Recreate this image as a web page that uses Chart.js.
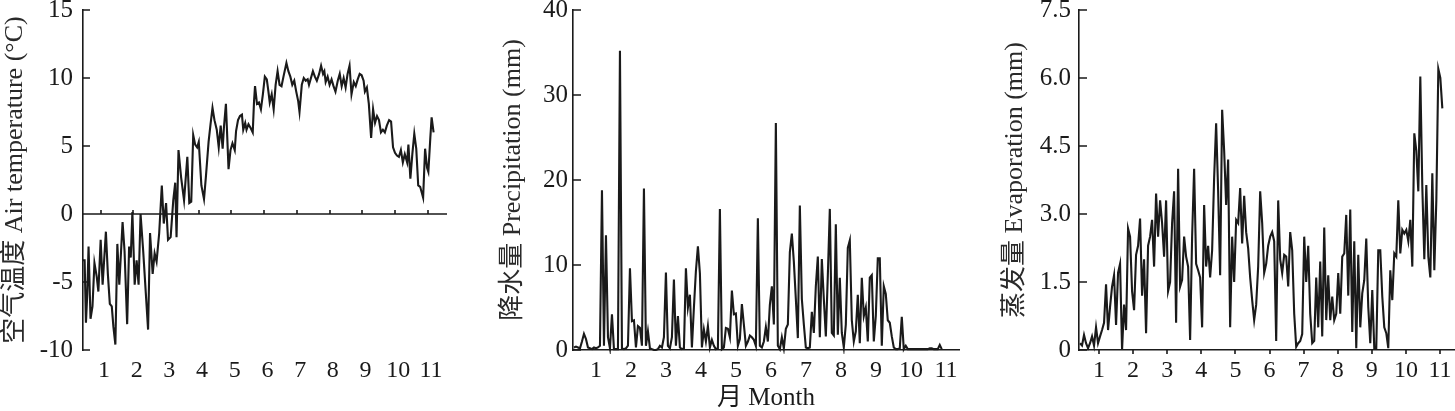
<!DOCTYPE html>
<html>
<head>
<meta charset="utf-8">
<script src="https://cdn.jsdelivr.net/npm/chart.js@4.4.1/dist/chart.umd.min.js"></script>
<style>
    body { margin: 0; background: #fff; width: 1455px; height: 411px; overflow: hidden; position: relative; }
    canvas { position: absolute; top: 0; }
</style>
</head>
<body>
<canvas id="tempChart" width="460" height="411" style="left:0px"></canvas>
<canvas id="precipChart" width="480" height="411" style="left:490px"></canvas>
<canvas id="evapChart" width="455" height="411" style="left:1000px"></canvas>
<script>
// month tick labels shared by the three panels
const monthTicks = [1, 2, 3, 4, 5, 6, 7, 8, 9, 10, 11];

// air temperature (°C), position in months
const tempMonth = [
    0.35, 0.41, 0.45, 0.49, 0.53, 0.59, 0.65, 0.71, 0.78, 0.83, 0.90, 0.96,
    1.06, 1.12, 1.18, 1.24, 1.29, 1.35, 1.41, 1.47, 1.57, 1.63, 1.71, 1.77, 1.82, 1.87, 1.94,
    2.00, 2.06, 2.12, 2.20, 2.28, 2.35, 2.41, 2.49, 2.55, 2.61, 2.69, 2.77, 2.83, 2.90, 2.96,
    3.04, 3.12, 3.18, 3.22, 3.28, 3.36, 3.45, 3.55, 3.61, 3.67, 3.73, 3.79, 3.85, 3.90, 3.98,
    4.06, 4.12, 4.20, 4.26, 4.32, 4.38, 4.45, 4.51, 4.57, 4.63, 4.67, 4.73, 4.81, 4.87, 4.93,
    5.00, 5.04, 5.10, 5.16, 5.22, 5.26, 5.32, 5.36, 5.42, 5.49, 5.55, 5.59,
    5.62, 5.68, 5.74, 5.80, 5.86, 5.92, 5.98, 6.03, 6.07, 6.13,
    6.19, 6.25, 6.31, 6.37, 6.43, 6.49, 6.58, 6.64, 6.70, 6.76,
    6.82, 6.88, 6.94, 6.98, 7.05, 7.11, 7.17, 7.23, 7.27, 7.33,
    7.39, 7.45, 7.51, 7.58, 7.64, 7.70, 7.74, 7.78, 7.84, 7.90,
    7.96, 8.02, 8.08, 8.15, 8.21, 8.27, 8.33, 8.39, 8.45, 8.51,
    8.57, 8.64, 8.70, 8.76, 8.82, 8.88, 8.94, 8.98, 9.04, 9.10,
    9.17, 9.23, 9.29, 9.35, 9.41, 9.47, 9.53, 9.59, 9.65, 9.72,
    9.78, 9.84, 9.90, 9.96, 10.02, 10.08, 10.14, 10.20, 10.27, 10.31,
    10.37, 10.43, 10.49, 10.55, 10.61, 10.67, 10.76, 10.82, 10.88, 10.92,
    10.98, 11.02, 11.08
];
const tempValue = [
    -3.4, -3.4, -8.0, -5.9, -2.4, -7.7, -6.8, -3.6, -4.6, -5.7, -1.9, -5.2,
    -1.3, -4.4, -6.6, -6.8, -8.3, -9.6, -2.2, -5.2, -0.6, -2.7, -8.1, -2.4, -3.2, 0.15, -5.2,
    -3.4, -5.2, 0, -2.7, -5.8, -8.5, -1.4, -4.4, -2.9, -3.5, -1.4, 2.1, -0.7, 0.8, -1.9,
    -1.7, 1.0, 2.3, -1.7, 4.7, 2.7, 1.0, 4.2, 0.8, 0.9, 5.8, 5.1, 4.9, 5.3, 2.1,
    1.1, 2.8, 5.3, 6.6, 7.8, 6.9, 6.2, 4.9, 6.5, 4.8, 6.4, 8.1, 3.3, 4.7, 5.2,
    4.7, 6.1, 6.9, 7.2, 7.3, 6.2, 6.7, 6.2, 6.6, 6.3, 6.0, 8.3,
    9.4, 8.1, 8.2, 7.7, 8.8, 10.1, 9.9, 9.0, 8.2, 8.8,
    7.7, 9.5, 10.5, 9.5, 9.4, 10.1, 11.1, 10.5, 10.1, 9.5,
    9.8, 9.0, 8.3, 7.5, 9.5, 10.0, 9.8, 9.9, 9.5, 10.0,
    10.5, 10.1, 9.8, 10.3, 10.9, 10.3, 10.5, 9.7, 10.1, 9.5,
    9.9, 9.4, 9.0, 9.8, 10.3, 9.4, 10.0, 9.3, 10.3, 10.9,
    8.8, 9.7, 9.4, 9.9, 10.3, 10.2, 9.8, 9.0, 9.3, 8.1,
    5.6, 7.7, 6.7, 7.2, 6.9, 6.0, 6.2, 6.0, 6.5, 6.9,
    6.8, 4.9, 4.5, 4.3, 4.2, 4.7, 3.8, 4.4, 3.8, 5.1,
    2.6, 4.4, 5.9, 4.8, 2.1, 2.0, 1.2, 4.8, 3.4, 3.1,
    5.6, 7.1, 6.0
];

// precipitation (mm), one reading every precipStep months from precipStart
const precipStart = 0.371;
const precipStep = 0.0571;
const precipValue = [
    0.3, 0.4, 0.3, 0.2, 1.0, 1.9, 1.3, 0.3, 0.2, 0.1,
    0.3, 0.2, 0.3, 0.5, 18.8, 0.5, 13.5, 1.5, 0.2, 4.2,
    0.1, 0.1, 0.1, 35.2, 0.2, 0.1, 0.2, 0.5, 9.6, 3.4,
    3.5, 0.3, 2.8, 2.6, 0.5, 19.0, 0.5, 2.2, 0.2, 0.1,
    0, 0, 0.1, 0.5, 0.3, 1.5, 9.1, 0.5, 0.2, 1.5,
    8.3, 0.5, 4.0, 0.3, 0.1, 0.2, 9.6, 5.0, 6.5, 0.3,
    5.0, 9.3, 12.2, 9.0, 0.3, 2.4, 1.0, 2.8, 0.3, 1.2,
    0.5, 0.1, 0.2, 16.6, 0.1, 0.3, 2.6, 2.5, 1.5, 7.0,
    4.2, 4.3, 0.5, 1.3, 5.4, 3.0, 0.5, 1.0, 1.7, 1.5,
    1.2, 0.5, 15.5, 0.5, 0.3, 1.0,
    2.7, 1.0, 5.3, 7.5, 3.0, 26.7, 0.5, 0.1, 1.5, 0.2,
    2.5, 3.0, 11.5, 13.7, 10.4, 6.0, 1.4, 17.0, 6.0, 3.0,
    0.3, 0.2, 0.3, 4.5, 2.0, 7.5, 11.0, 1.5, 10.7, 6.0,
    1.6, 8.8, 16.6, 2.0, 1.7, 14.8, 1.8, 8.5, 2.0, 0.3,
    3.0, 12.0, 12.9, 3.5, 1.0, 2.2, 6.5, 0.8, 8.5, 4.0,
    5.0, 1.0, 8.5, 8.8, 1.0, 4.0, 10.8, 10.8, 0.5, 7.5,
    6.6, 3.5, 3.2, 1.6, 0.3, 0.1, 0.1, 0.2, 3.9, 0.1,
    0.5, 0.1, 0.1, 0.1, 0.1, 0.1, 0.1, 0.1, 0.1, 0.1,
    0.1, 0.1, 0.2, 0.2, 0.1, 0.1, 0.1, 0.6, 0.1
];

// evaporation (mm), one reading every evapStep months from evapStart
const evapStart = 0.443;
const evapStep = 0.0587;
const evapValue = [
    0.15, 0.1, 0.33, 0.15, 0.04, 0.15, 0.3, 0.1, 0.5, 0.15,
    0.3, 0.44, 0.6, 1.45, 0.44, 0.95, 1.4, 1.65, 0.55, 1.7,
    1.9, 0, 1.0, 0.44, 2.68, 2.5, 1.3, 0.88, 2.1, 2.3,
    2.9, 1.2, 2.0, 0.37, 2.3, 2.5, 2.87, 1.84, 3.45, 2.5,
    3.3, 2.8, 2.06, 3.3, 1.3, 1.5, 2.8, 3.5, 0.6, 4.0,
    1.4, 1.55, 2.5, 2.06, 1.84, 0.22, 2.5, 4.0, 1.9, 1.76,
    1.6, 0.5, 3.2, 1.84, 2.3, 1.6, 2.2, 3.8, 5.0, 3.5,
    1.65, 5.3, 4.4, 3.2, 4.2, 0.5, 2.5, 1.5, 2.87, 2.8,
    3.57, 2.35, 3.4, 2.6, 2.24, 1.6, 1.1, 0.66, 1.0, 1.84,
    3.5, 2.8, 1.7,
    1.9, 2.3, 2.5, 2.6, 2.4, 0.2, 3.3, 2.0, 1.7, 2.1,
    2.06, 1.4, 2.6, 2.2, 0.8, 0.07, 0.15, 0.2, 0.35, 2.5,
    1.5, 2.3, 0.8, 0.15, 0.2, 1.6, 0.5, 1.95, 0.3, 2.7,
    0.66, 1.65, 0.66, 1.18, 0.66, 0.8, 1.7, 0.8, 2.06, 2.13,
    2.98, 1.2, 3.1, 0.4, 2.4, 0.04, 2.1, 0.5, 1.25, 1.54,
    2.46, 0.95, 0.15, 1.32, 0.04, 0.04, 2.2, 2.2, 1.18, 0.5,
    0.37, 0.04, 1.76, 1.1, 2.13, 2.06, 3.3, 2.13, 2.65, 2.57,
    2.65, 2.4, 2.87, 1.84, 4.78, 4.4, 3.5, 6.03, 3.6, 2.0,
    3.64, 2.06, 1.6, 3.9, 1.76, 3.3, 6.2, 6.0, 5.33
];

const INK = '#1a1a1a';
const FONT = "'Liberation Serif', 'Noto Sans CJK SC', serif";
Chart.defaults.font.family = FONT;
Chart.defaults.color = INK;

// inward y ticks, optional zero line and month tick marks
const axisMarks = {
    id: 'axisMarks',
    afterDatasetsDraw(chart, args, opts) {
        const { ctx, chartArea, scales: { x, y } } = chart;
        ctx.save();
        ctx.strokeStyle = INK;
        ctx.lineWidth = 1.6;
        ctx.beginPath();
        y.ticks.forEach(t => {
            const py = Math.round(y.getPixelForValue(t.value));
            ctx.moveTo(chartArea.left, py);
            ctx.lineTo(chartArea.left + opts.yTick, py);
        });
        let base = chartArea.bottom;
        if (opts.zeroLine) {
            base = Math.round(y.getPixelForValue(0));
            ctx.moveTo(chartArea.left, base);
            ctx.lineTo(chartArea.right, base);
        }
        if (opts.xTick) {
            monthTicks.forEach(m => {
                const px = Math.round(x.getPixelForValue(m + opts.xTickShift));
                ctx.moveTo(px, base);
                ctx.lineTo(px, base + opts.xTick);
            });
        }
        ctx.stroke();
        ctx.restore();
    }
};

function makePanel(id, points, p) {
    return new Chart(document.getElementById(id), {
        type: 'line',
        data: {
            datasets: [{
                data: points,
                borderColor: INK,
                borderWidth: 2.1,
                pointRadius: 0,
                tension: 0,
                clip: 4
            }]
        },
        options: {
            responsive: false,
            animation: false,
            devicePixelRatio: 1,
            layout: { padding: { top: 10, right: p.right, bottom: 0, left: 0 } },
            plugins: {
                legend: { display: false },
                tooltip: { enabled: false },
                axisMarks: { yTick: p.yTick, zeroLine: p.zeroLine, xTick: p.xTick, xTickShift: p.xTickShift || 0 }
            },
            scales: {
                x: {
                    type: 'linear',
                    min: p.xMin,
                    max: p.xMax,
                    afterBuildTicks: scale => { scale.ticks = monthTicks.map(v => ({ value: v })); },
                    afterFit: scale => { scale.height = 61; scale.paddingLeft = 0; scale.paddingRight = 0; },
                    grid: { display: false, drawTicks: false },
                    border: { display: p.xBorder, color: INK, width: 1.6 },
                    ticks: { font: { size: 24 }, padding: 6, maxRotation: 0, autoSkip: false, color: INK },
                    title: {
                        display: !!p.xTitle,
                        text: p.xTitle || '',
                        font: { size: 25, lineHeight: 1 },
                        padding: { top: 0, bottom: 0 },
                        color: INK
                    }
                },
                y: {
                    min: p.yMin,
                    max: p.yMax,
                    afterBuildTicks: scale => { scale.ticks = p.yTicks.map(v => ({ value: v })); },
                    afterFit: scale => { scale.width = p.left; scale.paddingTop = 0; scale.paddingBottom = 0; },
                    grid: { display: false, drawTicks: false },
                    border: { display: true, color: INK, width: 1.6 },
                    ticks: {
                        font: { size: 25 },
                        padding: p.yPad,
                        color: INK,
                        callback: p.yFormat || (v => v)
                    },
                    title: {
                        display: true,
                        text: p.yTitle,
                        font: { size: 26, lineHeight: 1.2 },
                        padding: { top: p.titlePad, bottom: 0 },
                        color: '#2a2a2a'
                    }
                }
            }
        },
        plugins: [axisMarks]
    });
}

const tempPoints = tempMonth.map((m, i) => ({ x: m, y: tempValue[i] }));
const precipPoints = precipValue.map((v, i) => ({ x: precipStart + i * precipStep, y: v }));
const evapPoints = evapValue.map((v, i) => ({ x: evapStart + i * evapStep, y: v }));

makePanel('tempChart', tempPoints, {
    left: 83, right: 13, xMin: 0.36, xMax: 11.49,
    yMin: -10, yMax: 15, yTicks: [-10, -5, 0, 5, 10, 15], yPad: 10,
    yTitle: '空气温度 Air temperature (°C)', titlePad: 0,
    yTick: 7, zeroLine: true, xTick: -4, xTickShift: -0.1, xBorder: false
});

makePanel('precipChart', precipPoints, {
    left: 83, right: 11, xMin: 0.343, xMax: 11.37,
    yMin: 0, yMax: 40, yTicks: [0, 10, 20, 30, 40], yPad: 5,
    yTitle: '降水量 Precipitation (mm)', titlePad: 8,
    yTick: 8, zeroLine: false, xTick: 0, xBorder: true,
    xTitle: '月 Month'
});

makePanel('evapChart', evapPoints, {
    left: 79, right: 1, xMin: 0.413, xMax: 11.41,
    yMin: 0, yMax: 7.5, yTicks: [0, 1.5, 3, 4.5, 6, 7.5], yPad: 8,
    yFormat: v => (v === 0 ? '0' : v.toFixed(1)),
    yTitle: '蒸发量 Evaporation (mm)', titlePad: 0,
    yTick: 8, zeroLine: false, xTick: 4, xBorder: true
});
</script>
</body>
</html>
